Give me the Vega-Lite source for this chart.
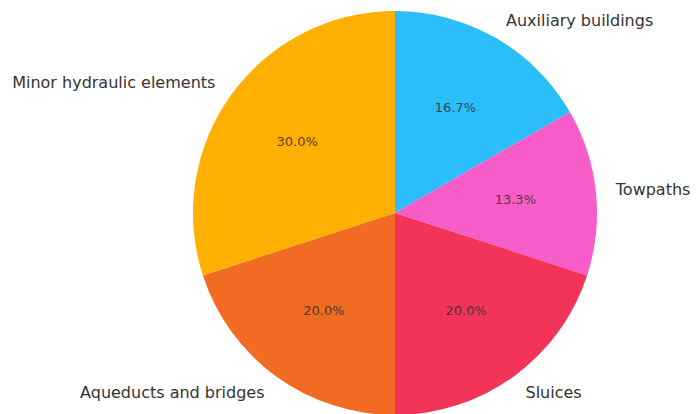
{
  "$schema": "https://vega.github.io/schema/vega-lite/v6.json",
  "width": 608,
  "height": 402,
  "padding": {"left": 91, "top": 12, "right": 0, "bottom": 0},
  "autosize": {"type": "none"},
  "background": "white",
  "view": {"stroke": null},
  "data": {
    "values": [
      {"category": "Auxiliary buildings", "value": 5, "pct": "16.7%", "order": 1},
      {"category": "Towpaths", "value": 4, "pct": "13.3%", "order": 2},
      {"category": "Sluices", "value": 6, "pct": "20.0%", "order": 3},
      {"category": "Aqueducts and bridges", "value": 6, "pct": "20.0%", "order": 4},
      {"category": "Minor hydraulic elements", "value": 9, "pct": "30.0%", "order": 5}
    ]
  },
  "encoding": {
    "theta": {"field": "value", "type": "quantitative", "stack": true},
    "order": {"field": "order", "type": "quantitative"}
  },
  "layer": [
    {
      "mark": {"type": "arc", "outerRadius": 202},
      "encoding": {
        "color": {
          "field": "category",
          "type": "nominal",
          "legend": null,
          "scale": {
            "domain": ["Auxiliary buildings", "Towpaths", "Sluices", "Aqueducts and bridges", "Minor hydraulic elements"],
            "range": ["#2CBEFB", "#F75CC8", "#F43358", "#F16B22", "#FFB000"]
          }
        }
      }
    },
    {
      "mark": {"type": "text", "radius": 121, "font": "DejaVu Sans", "fontSize": 13, "color": "#333333", "opacity": 0.85, "align": "center", "baseline": "middle"},
      "encoding": {"text": {"field": "pct", "type": "nominal"}}
    },
    {
      "mark": {"type": "text", "radius": 222, "font": "DejaVu Sans", "fontSize": 16, "color": "#333333", "align": "left", "baseline": "middle"},
      "encoding": {
        "text": {
          "condition": {"test": "indexof(['Auxiliary buildings','Towpaths','Sluices'], datum.category) >= 0", "field": "category"},
          "value": ""
        }
      }
    },
    {
      "mark": {"type": "text", "radius": 222, "font": "DejaVu Sans", "fontSize": 16, "color": "#333333", "align": "right", "baseline": "middle"},
      "encoding": {
        "text": {
          "condition": {"test": "indexof(['Aqueducts and bridges','Minor hydraulic elements'], datum.category) >= 0", "field": "category"},
          "value": ""
        }
      }
    }
  ]
}
